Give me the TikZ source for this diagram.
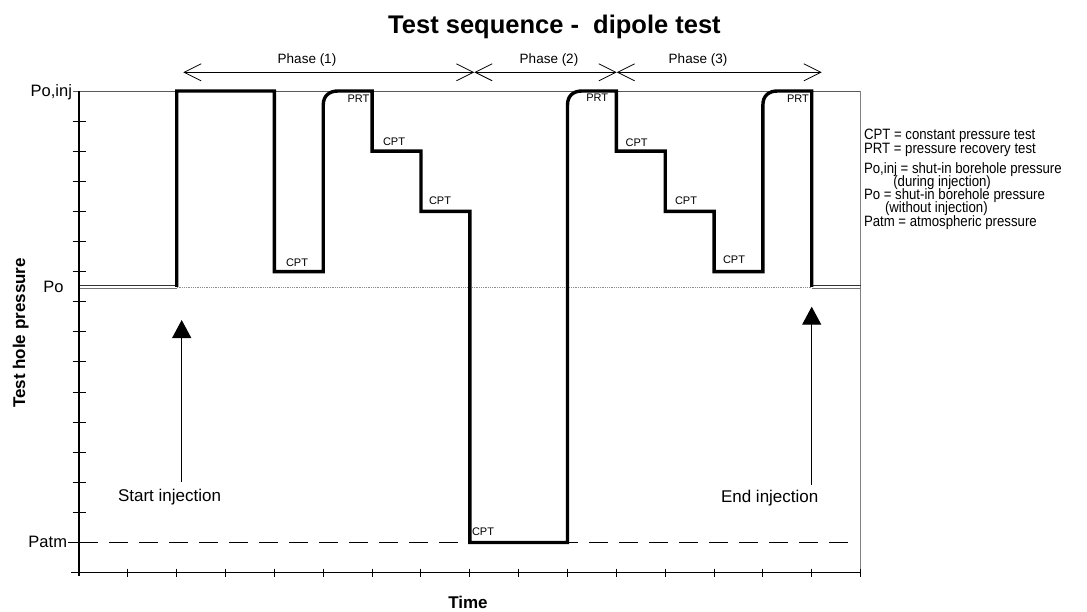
\documentclass[tikz,border=0pt]{standalone}
\usepackage{fontspec}
\setmainfont{Liberation Sans}
\newfontfamily\legendfont{Liberation Sans}[FakeStretch=0.88]
\usetikzlibrary{arrows.meta}
\begin{document}
\begin{tikzpicture}[x=1pt,y=-1pt,
  every node/.style={inner sep=0pt, outer sep=0pt},
  axisline/.style={line width=1.1pt, black},
  tickmark/.style={line width=1pt, black},
  refline/.style={line width=0.6pt, black!65},
  poline/.style={line width=0.7pt, black!45, dash pattern=on 1pt off 0.8pt},
  hollowtop/.style={line width=0.9pt, black!80},
  hollowbot/.style={line width=0.9pt, black!55},
  patmline/.style={line width=1.8pt, black, dash pattern=on 19pt off 11pt},
  patmstub/.style={line width=1.8pt, black},
  curve/.style={line width=3.4pt, black, line join=miter},
  phasearrow/.style={line width=0.8pt, {Straight Barb[length=17pt,width=17pt]}-{Straight Barb[length=17pt,width=17pt]}},
  injarrow/.style={line width=1.2pt, -{Triangle[length=18pt,width=19pt]}},
  tinylbl/.style={font=\fontsize{11}{12}\selectfont, anchor=base},
  phaselbl/.style={font=\fontsize{13.5}{15}\selectfont, anchor=base},
  levellbl/.style={font=\fontsize{16.5}{18}\selectfont, anchor=base east},
  injlbl/.style={font=\fontsize{17}{19}\selectfont, anchor=base},
  axislbl/.style={font=\bfseries\fontsize{17}{19}\selectfont, anchor=base},
  legendlbl/.style={font=\legendfont\fontsize{15}{16}\selectfont, anchor=base west}
]
\useasboundingbox (0,0) rectangle (1087,612);
\fill[white] (0,0) rectangle (1087,612);

% title
\node[font=\bfseries\fontsize{25.5}{28}\selectfont, anchor=base] (title) at (554.5,34) {Test sequence -\ \ dipole test};

% reference lines
\draw[refline] (73,91) -- (860.6,91);
\draw[refline, black!50] (860.6,91) -- (860.6,572.6);
\draw[poline] (176.7,287) -- (811.75,287);
\draw[hollowtop] (79,285.5) -- (176.7,285.5);
\draw[hollowbot] (79,288.6) -- (176.7,288.6);
\draw[hollowtop] (811.75,285.5) -- (860.6,285.5);
\draw[hollowbot] (811.75,288.6) -- (860.6,288.6);
\draw[patmstub] (68,542.5) -- (79,542.5);
\draw[patmline] (79,542.5) -- (857,542.5);

% axes
\draw[axisline] (79,91) -- (79,576);
\draw[axisline] (71,572.6) -- (860.6,572.6);
\foreach \k in {1,...,14} {
  \draw[tickmark] (72.5,{91+30.1*\k}) -- (85.5,{91+30.1*\k});
}
\foreach \k in {1,...,16} {
  \draw[tickmark] ({79+48.85*\k},568.6) -- ({79+48.85*\k},576.6);
}

% level labels
\node[levellbl] (poinj) at (72,96.8) {Po,inj};
\node[levellbl] (po) at (63.5,292.8) {Po};
\node[levellbl] (patm) at (67,547.5) {Patm};

% axis labels
\node[axislbl] (time) at (468,608.3) {Time};
\node[axislbl, rotate=90] (ylab) at (25,333) {Test hole pressure};

% test curve
\draw[curve] (176.7,287) -- (176.7,91) -- (274.4,91) -- (274.4,271.6)
  -- (323.25,271.6) -- (323.25,105) .. controls (323.25,96) and (329,91) .. (338,91)
  -- (372.1,91) -- (372.1,151.2) -- (420.95,151.2) -- (420.95,211.4)
  -- (469.8,211.4) -- (469.8,542.5) -- (567.5,542.5)
  -- (567.5,105) .. controls (567.5,96) and (573,91) .. (582,91)
  -- (616.35,91) -- (616.35,151.2) -- (665.2,151.2) -- (665.2,211.4)
  -- (714.05,211.4) -- (714.05,271.6) -- (762.9,271.6)
  -- (762.9,105) .. controls (762.9,96) and (768.5,91) .. (777.5,91)
  -- (811.75,91) -- (811.75,287);

% test labels
\node[tinylbl] (cpt1) at (297,267) {CPT};
\node[tinylbl] (prt1) at (358.5,102.3) {PRT};
\node[tinylbl] (cpt2) at (394,146) {CPT};
\node[tinylbl] (cpt3) at (440,204.3) {CPT};
\node[tinylbl, anchor=base west] (cpt4) at (472,535) {CPT};
\node[tinylbl] (prt2) at (597.3,101.7) {PRT};
\node[tinylbl] (cpt5) at (636.7,146.8) {CPT};
\node[tinylbl] (cpt6) at (686,205) {CPT};
\node[tinylbl] (cpt7) at (734,264) {CPT};
\node[tinylbl] (prt3) at (798,102.3) {PRT};

% phases
\coordinate (ph1a) at (183.3,72.3);
\coordinate (ph12) at (474.3,72.3);
\coordinate (ph23) at (616.7,72.3);
\coordinate (ph3b) at (821.7,72.3);
\draw[phasearrow] (ph1a) -- (ph12);
\draw[phasearrow] (ph12) -- (ph23);
\draw[phasearrow] (ph23) -- (ph3b);
\node[phaselbl] (phase1) at (307,63.5) {Phase (1)};
\node[phaselbl] (phase2) at (549,63.5) {Phase (2)};
\node[phaselbl] (phase3) at (698,63.5) {Phase (3)};

% injection markers
\node[injlbl] (startlbl) at (169.5,501.5) {Start injection};
\node[injlbl] (endlbl) at (769.7,502.7) {End injection};
\coordinate (starttail) at (181.7,481.7);
\coordinate (starttip) at (181.7,320);
\coordinate (endtail) at (811.7,485);
\coordinate (endtip) at (811.7,306.7);
\draw[injarrow] (starttail) -- (starttip);
\draw[injarrow] (endtail) -- (endtip);

% legend
\node[legendlbl] (lg1) at (864,140) {CPT = constant pressure test};
\node[legendlbl] (lg2) at (864,154) {PRT = pressure recovery test};
\node[legendlbl] (lg3) at (864,173.3) {Po,inj = shut-in borehole pressure};
\node[legendlbl] (lg4) at (893.3,186.5) {(during injection)};
\node[legendlbl] (lg5) at (864,200) {Po = shut-in borehole pressure};
\node[legendlbl] (lg6) at (885,213) {(without injection)};
\node[legendlbl] (lg7) at (864,226.7) {Patm = atmospheric pressure};
\end{tikzpicture}
\end{document}
